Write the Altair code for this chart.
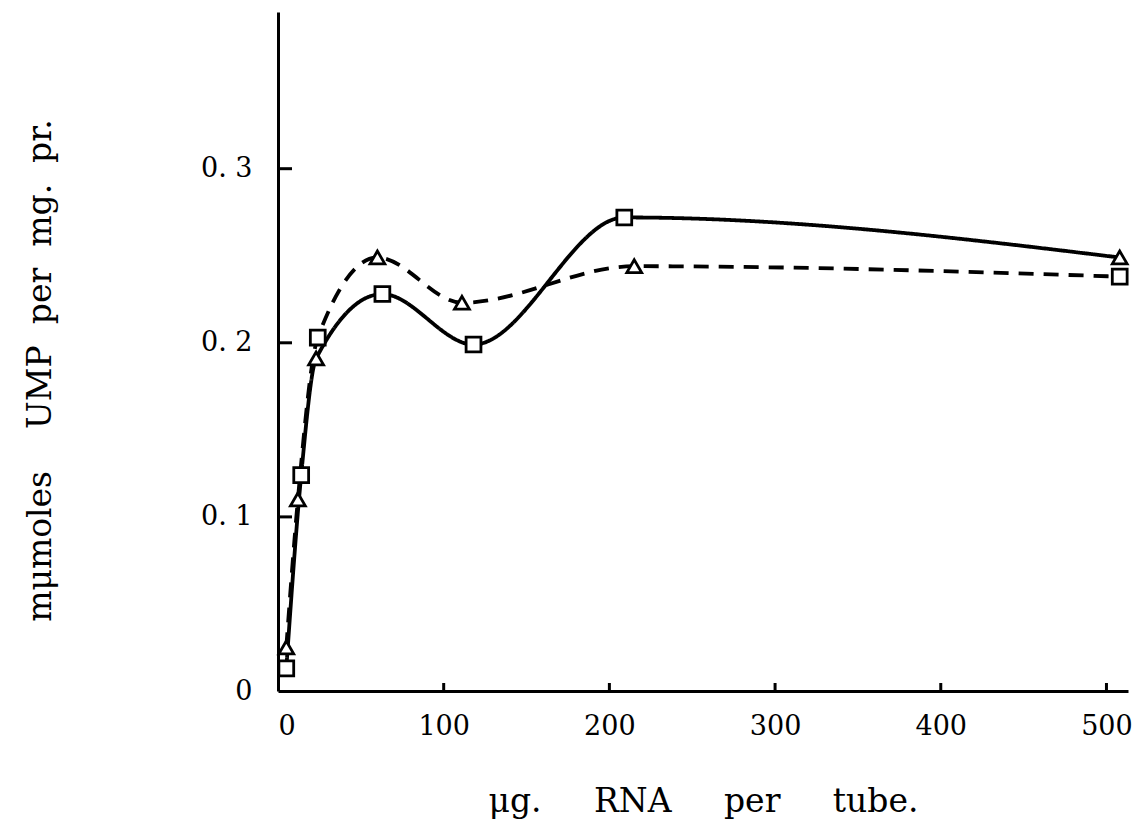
import altair as alt
import pandas as pd

# Solid curve (mostly squares)
solid_x = [5, 14, 23, 63, 118, 209, 508]
solid_y = [0.013, 0.124, 0.191, 0.228, 0.199, 0.272, 0.249]
solid_shape = ["square", "square", "triangle-up", "square", "square", "square", "triangle-up"]

# Dashed curve (mostly triangles)
dashed_x = [5, 12, 24, 60, 111, 215, 508]
dashed_y = [0.025, 0.110, 0.203, 0.249, 0.223, 0.244, 0.238]
dashed_shape = ["triangle-up", "triangle-up", "square", "triangle-up", "triangle-up", "triangle-up", "square"]

x_ticks = [0, 100, 200, 300, 400, 500]
y_ticks = [0, 0.1, 0.2, 0.3]
x_inner_ticks = [100, 200, 300, 400, 500]
y_inner_ticks = [0.1, 0.2, 0.3]

rows = []
for x, y, s in zip(solid_x, solid_y, solid_shape):
    rows.append({"x": x, "y": y, "shape": s, "series": "solid"})
for x, y, s in zip(dashed_x, dashed_y, dashed_shape):
    rows.append({"x": x, "y": y, "shape": s, "series": "dashed"})
df = pd.DataFrame(rows)

FONT = "DejaVu Serif"
NB = "\u00a0"
X_TITLE = f"μg.{NB*5}RNA{NB*5}per{NB*5}tube."
Y_TITLE = f"mμmoles{NB*4}UMP{NB*2}per{NB*2}mg.{NB*2}pr."

xscale = alt.Scale(domain=[0, 513], nice=False)
yscale = alt.Scale(domain=[0, 0.39], nice=False)

xaxis = alt.Axis(
    values=x_ticks, grid=False, ticks=False, labelPadding=22,
    title=X_TITLE, titleY=110, titleBaseline="middle",
)
yaxis = alt.Axis(
    values=y_ticks, grid=False, ticks=False, labelPadding=26,
    labelExpr="datum.value == 0 ? '0' : replace(format(datum.value, '.1f'), '.', '. ')",
    title=Y_TITLE, titleX=-238, titleY=358, titleBaseline="middle",
)

base = alt.Chart(df)

lines = base.mark_line(color="black", strokeWidth=3.8, interpolate="monotone").encode(
    x=alt.X("x:Q", scale=xscale, axis=xaxis),
    y=alt.Y("y:Q", scale=yscale, axis=yaxis),
    strokeDash=alt.StrokeDash(
        "series:N",
        scale=alt.Scale(domain=["solid", "dashed"], range=[[1, 0], [15, 10]]),
        legend=None,
    ),
    detail="series:N",
)

points = base.mark_point(filled=True, fill="white", stroke="black", strokeWidth=2.8, size=220, opacity=1).encode(
    x=alt.X("x:Q", scale=xscale, axis=xaxis),
    y=alt.Y("y:Q", scale=yscale, axis=yaxis),
    shape=alt.Shape("shape:N", scale=None),
)

yt = alt.Chart(pd.DataFrame({"v": y_inner_ticks})).mark_rule(color="black", strokeWidth=3).encode(
    y=alt.Y("v:Q", scale=yscale, axis=yaxis),
    x=alt.value(0),
    x2=alt.value(14),
)
xt = alt.Chart(pd.DataFrame({"v": x_inner_ticks})).mark_rule(color="black", strokeWidth=3).encode(
    x=alt.X("v:Q", scale=xscale, axis=xaxis),
    y=alt.value(679),
    y2=alt.value(671),
)

chart = alt.layer(lines, yt, xt, points).properties(
    width=850, height=679,
    autosize=alt.AutoSizeParams(type="none"),
    padding={"left": 270, "top": 4, "right": 10, "bottom": 140},
    background="white",
).configure(
    font=FONT
).configure_view(
    stroke=None
).configure_axis(
    labelFont=FONT, labelFontSize=27, labelColor="black",
    titleFont=FONT, titleFontSize=33, titleFontWeight="normal", titleColor="black",
    domainColor="black", domainWidth=3,
)

chart.save("out.html", embed_options={"renderer": "svg", "actions": False})
